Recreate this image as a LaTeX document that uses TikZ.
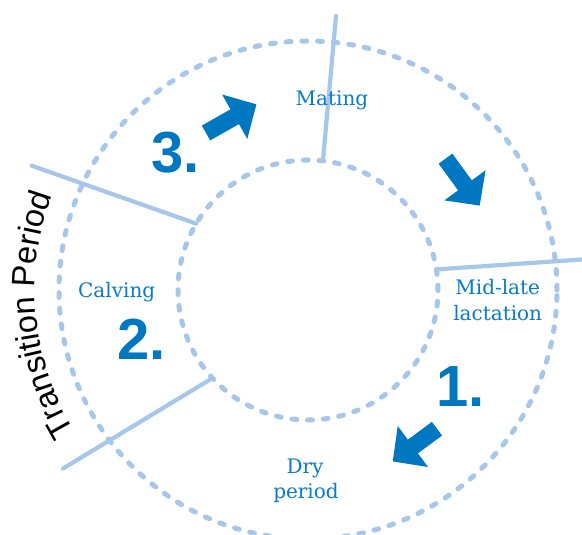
\documentclass[tikz,border=0pt]{standalone}
\usepackage{fontspec}
\usetikzlibrary{decorations.text}
\newfontfamily\labelfont{DejaVu Serif}
\newfontfamily\numfont{Liberation Sans}
\newfontfamily\transfont{Liberation Sans}
\definecolor{arrowblue}{RGB}{0,119,193}
\definecolor{labelblue}{RGB}{8,124,198}
\definecolor{lightblue}{RGB}{166,198,234}
\begin{document}
\begin{tikzpicture}[x=1pt,y=1pt,
  ring/.style={draw=lightblue, line width=5pt, dash pattern=on 4.8pt off 10.9pt, line cap=round},
  sep/.style={draw=lightblue, line width=4.2pt, line cap=round},
  lbl/.style={text=labelblue, font=\labelfont\fontsize{20}{24}\selectfont, inner sep=0pt, anchor=base},
  num/.style={text=arrowblue, font=\numfont\bfseries\fontsize{58}{60}\selectfont, inner sep=0pt, anchor=base},
  pics/blockarrow/.style={code={\fill[arrowblue] (0,-8.5) -- ({#1-25},-8.5) -- ({#1-25},-25.5) -- (#1,0) -- ({#1-25},25.5) -- ({#1-25},8.5) -- (0,8.5) -- cycle;}}
]
\useasboundingbox (0,0) rectangle (582,535);
\coordinate (C) at (308,245);
% rings
\draw[ring] (C) circle[radius=249];
\draw[ring] (C) circle[radius=130];
% separators
\coordinate (s1i) at ([shift={(83.4:130)}]C);
\coordinate (s1o) at (336,519);
\coordinate (s2i) at ([shift={(149.3:130)}]C);
\coordinate (s2o) at (31.7,369.3);
\coordinate (s3i) at ([shift={(222.7:130)}]C);
\coordinate (s3o) at (63,66.5);
\coordinate (s4i) at ([shift={(9.1:130)}]C);
\coordinate (s4o) at (586,275.8);
\draw[sep] (s1i) -- (s1o);
\draw[sep] (s2i) -- (s2o);
\draw[sep] (s3i) -- (s3o);
\draw[sep] (s4i) -- (s4o);
% arrows
\pic[rotate=29.6] (a3) at (206,402) {blockarrow=58};
\pic[rotate=-53.9] (a2) at (445.5,376.3) {blockarrow=58};
\pic[rotate=216.5] (a1) at (437,106.3) {blockarrow=55};
% labels
\node[lbl] (mating) at (332,429.3) {Mating};
\node[lbl] (calving) at (116.7,237.3) {Calving};
\node[lbl] (midlate) at (497.7,240) {Mid-late};
\node[lbl] (lactation) at (497.7,214) {lactation};
\node[lbl] (dry) at (305,61.7) {Dry};
\node[lbl] (period) at (306,36) {period};
% numbers
\node[num] (n3) at (175.3,362.3) {3.};
\node[num] (n2) at (141.7,175.7) {2.};
\node[num] (n1) at (460.2,128.3) {1.};
% transition period
\path[decorate, decoration={text along path, text align=center,
  text={|\transfont\fontsize{32.5}{39}\selectfont|Transition Period}}]
  ([shift={(225.5:273)}]C) arc[start angle=225.5, end angle=145.5, radius=273];
\end{tikzpicture}
\end{document}
